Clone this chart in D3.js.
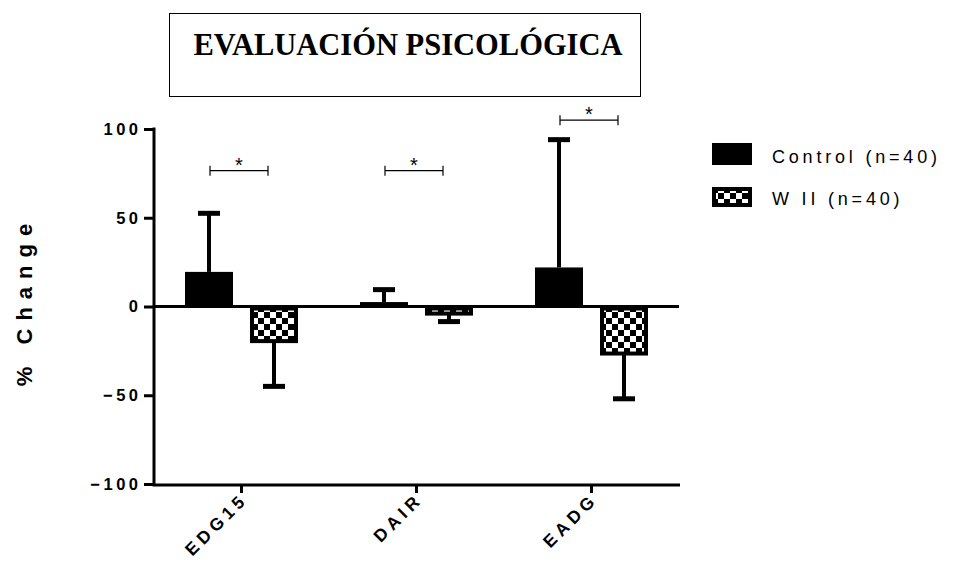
<!DOCTYPE html>
<html>
<head>
<meta charset="utf-8">
<script src="https://cdn.jsdelivr.net/npm/d3@7"></script>
<style>
  body { margin: 0; background: #fff; }
  text { font-family: "Liberation Sans", Arial, sans-serif; }
</style>
</head>
<body>
<div id="chart"></div>
<script>
// data
var categories = ["EDG15", "DAIR", "EADG"];
var groups = ["Control (n=40)", "W II (n=40)"];
var controlMean = [19.5, 2.5, 22];
var controlSD = [33, 7, 72];
var wiiMean = [-19.5, -4, -26.5];
var wiiSD = [25.5, 4.5, 25.5];
var bracketLevel = [76.5, 76.5, 105];
var yTicks = [-100, -50, 0, 50, 100];

var svgWidth = 956;
var svgHeight = 576;

var svg = d3.select("#chart")
  .append("svg")
  .attr("width", svgWidth)
  .attr("height", svgHeight);

// checker pattern for W II
var defs = svg.append("defs");
var pat = defs.append("pattern")
  .attr("id", "checker")
  .attr("patternUnits", "userSpaceOnUse")
  .attr("width", 12)
  .attr("height", 12);
pat.append("rect").attr("width", 12).attr("height", 12).attr("fill", "#fff");
pat.append("rect").attr("width", 6).attr("height", 6).attr("fill", "#000");
pat.append("rect").attr("x", 6).attr("y", 6).attr("width", 6).attr("height", 6).attr("fill", "#000");

var x = d3.scaleBand()
  .domain(categories)
  .range([154, 679])
  .padding(0);

var inner = d3.scaleBand()
  .domain(["control", "wii"])
  .range([0, x.bandwidth()])
  .paddingInner(17 / 65)
  .paddingOuter(31 / 65);

var y = d3.scaleLinear()
  .domain([-100, 100])
  .range([484, 129]);

var rows = categories.map(function(c, i) {
  return [
    { cat: c, key: "control", mean: controlMean[i], sd: controlSD[i] },
    { cat: c, key: "wii", mean: wiiMean[i], sd: wiiSD[i] }
  ];
}).flat();

// title box
svg.append("rect")
  .attr("x", 169.5).attr("y", 13.5)
  .attr("width", 471).attr("height", 83)
  .attr("fill", "none").attr("stroke", "#000").attr("stroke-width", 1);
svg.append("text")
  .attr("x", 408).attr("y", 55)
  .attr("text-anchor", "middle")
  .style("font-family", "'Liberation Serif', 'Times New Roman', serif")
  .style("font-weight", "bold")
  .style("font-size", "30.5px")
  .text("EVALUACIÓN PSICOLÓGICA");

// bars
var bw = inner.bandwidth();
svg.selectAll(".bar")
  .data(rows)
  .enter()
  .append("rect")
  .attr("class", "bar")
  .attr("x", function(d) { return x(d.cat) + inner(d.key) + (d.key === "wii" ? 2 : 0); })
  .attr("y", function(d) { return d.mean >= 0 ? y(d.mean) : y(0) + (d.key === "wii" ? 2 : 0); })
  .attr("width", function(d) { return d.key === "wii" ? bw - 4 : bw; })
  .attr("height", function(d) { return Math.abs(y(d.mean) - y(0)) - (d.key === "wii" ? 2 : 0); })
  .attr("fill", function(d) { return d.key === "wii" ? "url(#checker)" : "#000"; })
  .attr("stroke", function(d) { return d.key === "wii" ? "#000" : "none"; })
  .attr("stroke-width", 4);

// error bars (one side, away from zero)
var err = svg.selectAll(".err")
  .data(rows)
  .enter()
  .append("g")
  .attr("class", "err");

err.append("line")
  .attr("x1", function(d) { return x(d.cat) + inner(d.key) + bw / 2; })
  .attr("x2", function(d) { return x(d.cat) + inner(d.key) + bw / 2; })
  .attr("y1", function(d) { return y(d.mean); })
  .attr("y2", function(d) { return y(d.mean + (d.mean >= 0 ? d.sd : -d.sd)); })
  .attr("stroke", "#000")
  .attr("stroke-width", 4);

err.append("line")
  .attr("x1", function(d) { return x(d.cat) + inner(d.key) + bw / 2 - 11; })
  .attr("x2", function(d) { return x(d.cat) + inner(d.key) + bw / 2 + 11; })
  .attr("y1", function(d) { return y(d.mean + (d.mean >= 0 ? d.sd : -d.sd)); })
  .attr("y2", function(d) { return y(d.mean + (d.mean >= 0 ? d.sd : -d.sd)); })
  .attr("stroke", "#000")
  .attr("stroke-width", 5);

// zero line
svg.append("line")
  .attr("x1", 154).attr("x2", 679)
  .attr("y1", y(0)).attr("y2", y(0))
  .attr("stroke", "#000").attr("stroke-width", 3);

// y axis
var yAxis = svg.append("g")
  .attr("transform", "translate(154,0)")
  .call(d3.axisLeft(y).tickValues(yTicks).tickSize(10).tickPadding(6));
yAxis.select(".domain").attr("stroke-width", 3).attr("d", "M0,127.5V485.5");
yAxis.selectAll(".tick line").attr("stroke-width", 3);
yAxis.selectAll(".tick text")
  .style("font-size", "16.5px")
  .style("font-weight", "bold")
  .style("letter-spacing", "3.5px")
  .attr("dx", "3.5px")
  .attr("fill", "#000");

// x axis
var xAxis = svg.append("g")
  .attr("transform", "translate(0,485)")
  .call(d3.axisBottom(x).tickSize(8).tickSizeOuter(0));
xAxis.select(".domain").attr("stroke-width", 3).attr("d", "M152.5,0H680");
xAxis.selectAll(".tick line").attr("stroke-width", 3);
xAxis.selectAll(".tick text")
  .style("font-size", "17.5px")
  .style("font-weight", "bold")
  .style("letter-spacing", "4.5px")
  .attr("text-anchor", "end")
  .attr("transform", "translate(3,11) rotate(-45)")
  .attr("dy", "0.35em")
  .attr("y", 0)
  .attr("fill", "#000");

// y label
svg.append("text")
  .attr("transform", "translate(32,305) rotate(-90)")
  .attr("text-anchor", "middle")
  .attr("dx", 4)
  .style("font-size", "22px")
  .style("font-weight", "bold")
  .style("letter-spacing", "8px")
  .text("% Change");

// significance brackets
var br = svg.selectAll(".br")
  .data(categories)
  .enter()
  .append("g")
  .attr("class", "br");
br.append("path")
  .attr("d", function(d, i) {
    var x0 = x(d) + inner("control") + bw / 2 + 1;
    var x1 = x0 + 58;
    var yy = y(bracketLevel[i]);
    return "M" + x0 + "," + (yy - 5) + "V" + (yy + 5) + "M" + x0 + "," + yy + "H" + x1 +
      "M" + x1 + "," + (yy - 5) + "V" + (yy + 5);
  })
  .attr("fill", "none")
  .attr("stroke", "#000")
  .attr("stroke-width", 1.2);
br.append("text")
  .attr("x", function(d) { return x(d) + inner("control") + bw / 2 + 30; })
  .attr("y", function(d, i) { return y(bracketLevel[i]) + 1; })
  .attr("text-anchor", "middle")
  .style("font-size", "20px")
  .text("*");

// legend
var legend = svg.selectAll(".legend")
  .data(groups)
  .enter()
  .append("g")
  .attr("class", "legend")
  .attr("transform", function(d, i) { return "translate(712," + (143 + i * 44) + ")"; });
legend.append("rect")
  .attr("x", function(d, i) { return i ? 2 : 0; })
  .attr("y", function(d, i) { return i ? 2 : 0; })
  .attr("width", function(d, i) { return i ? 36 : 40; })
  .attr("height", function(d, i) { return i ? 16 : 22; })
  .attr("fill", function(d, i) { return i ? "url(#checker)" : "#000"; })
  .attr("stroke", "#000")
  .attr("stroke-width", function(d, i) { return i ? 4 : 0; });
legend.append("text")
  .attr("x", 60)
  .attr("y", function(d, i) { return i ? 18 : 20; })
  .style("font-size", "18px")
  .style("letter-spacing", "3.8px")
  .text(function(d) { return d; });
</script>
</body>
</html>
